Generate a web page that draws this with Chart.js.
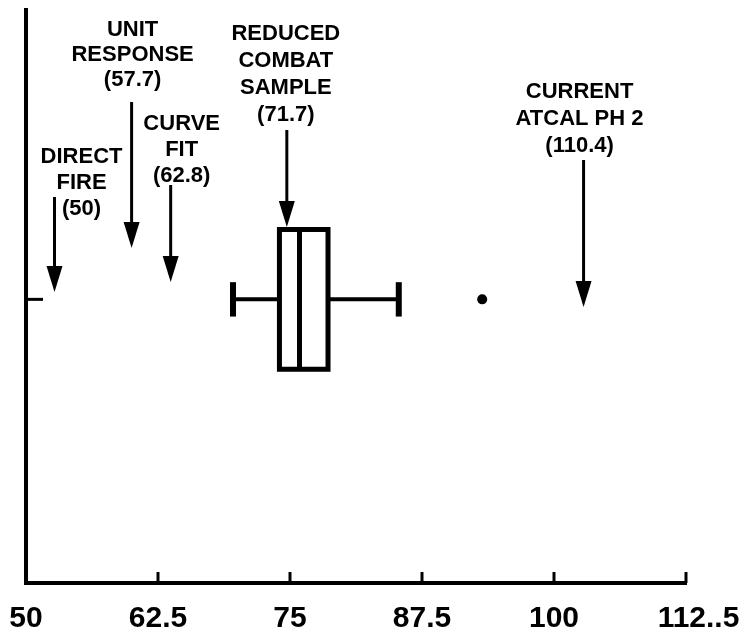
<!DOCTYPE html>
<html>
<head>
<meta charset="utf-8">
<script src="https://cdn.jsdelivr.net/npm/chart.js@4.4.1/dist/chart.umd.min.js"></script>
<style>
  html, body { margin: 0; padding: 0; background: #fff; overflow: hidden; }
  #wrap { width: 744px; height: 638px; }
</style>
</head>
<body>
<div id="wrap"><canvas id="grafico"></canvas></div>
<script>
// eixo x
const xTickValues = [50, 62.5, 75, 87.5, 100, 112.5];
const xTickLabels = ['50', '62.5', '75', '87.5', '100', '112..5'];

// boxplot: whisker min, q1, mediana, q3, whisker max
const boxValues = [69.6, 74.0, 75.9, 78.6, 85.3];
const outlierValues = [93.2];

// setas de referencia
const markerLabels = [
  ['DIRECT', 'FIRE', '(50)'],
  ['UNIT', 'RESPONSE', '(57.7)'],
  ['CURVE', 'FIT', '(62.8)'],
  ['REDUCED', 'COMBAT', 'SAMPLE', '(71.7)'],
  ['CURRENT', 'ATCAL PH 2', '(110.4)']
];
const markerValues = [52.7, 60.0, 63.7, 74.7, 102.8];

// posicao das setas/textos em pixels (so layout)
const markerLayout = [
  { dx: 27, textY: 157, gap: 26, top: 197, tip: 292 },
  { dx: 1, textY: 30, gap: 25, top: 102, tip: 248 },
  { dx: 11, textY: 124, gap: 26, top: 185, tip: 282 },
  { dx: -1, textY: 34, gap: 27, top: 130, tip: 227 },
  { dx: -4, textY: 92, gap: 27, top: 160, tip: 307 }
];

const BOX_Y = 0.495;   // centro da caixa na escala y (0..1)
const BOX_H = 0.122;   // meia altura da caixa
const CAP_H = 0.03;    // meia altura dos whiskers

function segmento(pontos, largura) {
  return {
    type: 'scatter',
    data: pontos,
    showLine: true,
    borderColor: '#000',
    borderWidth: largura,
    borderJoinStyle: 'miter',
    borderCapStyle: 'butt',
    pointRadius: 0,
    fill: false
  };
}

const [wMin, q1, med, q3, wMax] = boxValues;
const lo = BOX_Y - BOX_H, hi = BOX_Y + BOX_H;

const datasets = [
  segmento([{ x: wMin, y: BOX_Y }, { x: q1, y: BOX_Y }], 4),
  segmento([{ x: q3, y: BOX_Y }, { x: wMax, y: BOX_Y }], 4),
  segmento([{ x: wMin, y: BOX_Y - CAP_H }, { x: wMin, y: BOX_Y + CAP_H }], 6),
  segmento([{ x: wMax, y: BOX_Y - CAP_H }, { x: wMax, y: BOX_Y + CAP_H }], 6),
  // caixa (volta ate o segundo canto para fechar a quina)
  segmento([{ x: q1, y: lo }, { x: q3, y: lo }, { x: q3, y: hi }, { x: q1, y: hi }, { x: q1, y: lo }, { x: q3, y: lo }], 5),
  segmento([{ x: med, y: lo }, { x: med, y: hi }], 5),
  {
    type: 'scatter',
    data: outlierValues.map(v => ({ x: v, y: BOX_Y })),
    pointRadius: 5,
    pointBackgroundColor: '#000',
    pointBorderWidth: 0
  }
];

const setas = {
  id: 'setas',
  afterDatasetsDraw(chart) {
    const ctx = chart.ctx;
    const xs = chart.scales.x;
    const ys = chart.scales.y;
    const area = chart.chartArea;
    ctx.save();
    ctx.strokeStyle = '#000';
    ctx.fillStyle = '#000';
    ctx.lineWidth = 3;

    // ticks do eixo x voltados para dentro
    xs.ticks.forEach(t => {
      const px = xs.getPixelForValue(t.value);
      ctx.beginPath();
      ctx.moveTo(px, area.bottom);
      ctx.lineTo(px, area.bottom - 11);
      ctx.stroke();
    });

    // pequeno tick do eixo y na altura da caixa
    const yc = ys.getPixelForValue(BOX_Y);
    ctx.beginPath();
    ctx.moveTo(area.left, yc);
    ctx.lineTo(area.left + 17, yc);
    ctx.stroke();

    ctx.font = 'bold 22px "Liberation Sans", Arial, sans-serif';
    ctx.textAlign = 'center';
    ctx.textBaseline = 'middle';
    markerValues.forEach((v, i) => {
      const px = xs.getPixelForValue(v);
      const l = markerLayout[i];
      markerLabels[i].forEach((t, j) => {
        ctx.fillText(t, px + l.dx, l.textY + j * l.gap);
      });
      const head = 26;
      ctx.lineWidth = 3;
      ctx.beginPath();
      ctx.moveTo(px, l.top);
      ctx.lineTo(px, l.tip - head + 2);
      ctx.stroke();
      ctx.beginPath();
      ctx.moveTo(px - 8, l.tip - head);
      ctx.lineTo(px + 8, l.tip - head);
      ctx.lineTo(px, l.tip);
      ctx.closePath();
      ctx.fill();
    });
    ctx.restore();
  }
};

new Chart(document.getElementById('grafico'), {
  type: 'scatter',
  data: { datasets: datasets },
  plugins: [setas],
  options: {
    responsive: true,
    maintainAspectRatio: false,
    animation: false,
    layout: { padding: { left: 26, right: 58, top: 10, bottom: 1 } },
    plugins: {
      legend: { display: false },
      tooltip: { enabled: false }
    },
    scales: {
      x: {
        type: 'linear',
        min: 50,
        max: 112.5,
        afterBuildTicks: (scale) => {
          scale.ticks = xTickValues.map(v => ({ value: v }));
        },
        ticks: {
          autoSkip: false,
          maxRotation: 0,
          padding: 0,
          color: '#000',
          font: { family: '"Liberation Sans", Arial, sans-serif', size: 30, weight: 'bold' },
          // o ultimo rotulo fica deslocado para a direita no original
          callback: (value, index) => index === xTickLabels.length - 1 ? '   ' + xTickLabels[index] : xTickLabels[index]
        },
        grid: {
          display: true,
          drawOnChartArea: false,
          drawTicks: true,
          tickLength: 18,
          tickColor: 'rgba(0,0,0,0)'
        },
        border: { color: '#000', width: 4 }
      },
      y: {
        type: 'linear',
        min: 0,
        max: 1,
        ticks: { display: false },
        grid: { display: false, drawTicks: false },
        border: { color: '#000', width: 4 }
      }
    }
  }
});
</script>
</body>
</html>
